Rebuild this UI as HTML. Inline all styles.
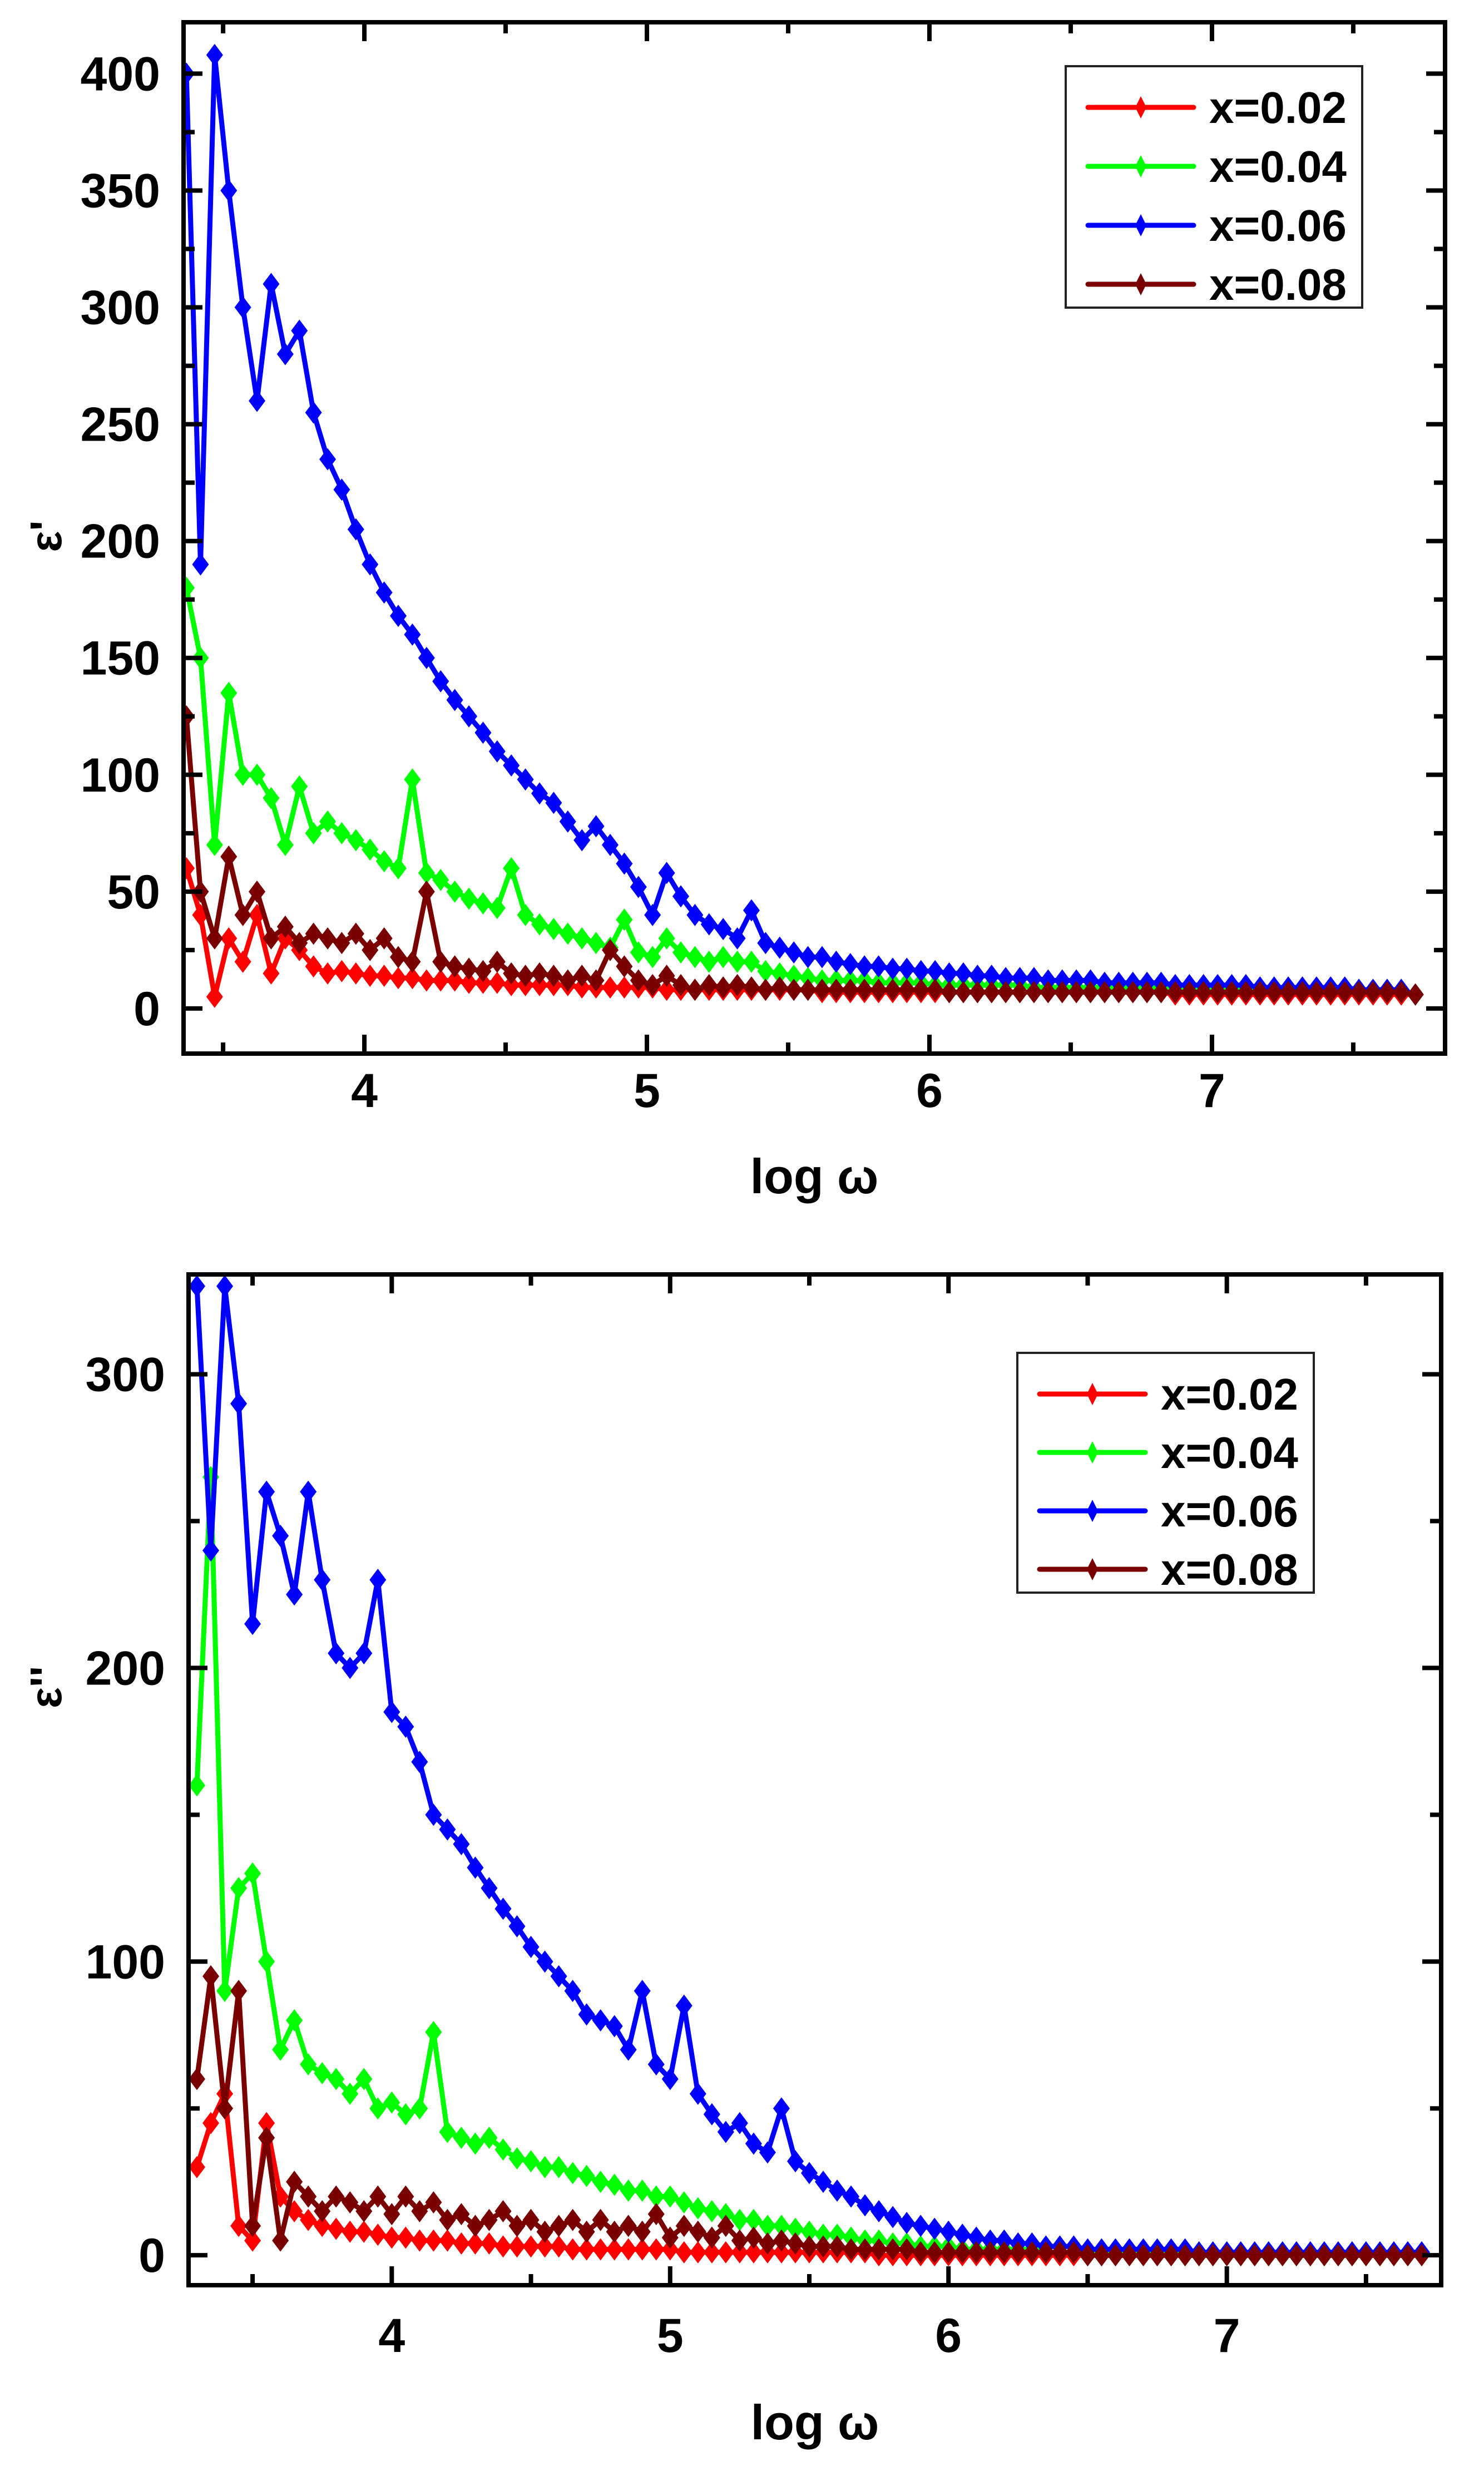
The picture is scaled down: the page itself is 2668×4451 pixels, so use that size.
<!DOCTYPE html>
<html><head><meta charset="utf-8"><style>
html,body{margin:0;padding:0;background:#fff;}
svg{display:block;font-family:"Liberation Sans",Arial,sans-serif;font-weight:bold;}
</style></head><body>
<svg id="fig" width="2668" height="4451" viewBox="0 0 2668 4451" xmlns="http://www.w3.org/2000/svg"></svg>
<script>
// ---------- data: top chart (epsilon') ----------
const topX = [3.37,3.42,3.47,3.52,3.57,3.62,3.67,3.72,3.77,3.82, 3.87,3.92,3.97,4.02,4.07,4.12,4.17,4.22,4.27,4.32, 4.37,4.42,4.47,4.52,4.57,4.62,4.67,4.72,4.77,4.82, 4.87,4.92,4.97,5.02,5.07,5.12,5.17,5.22,5.27,5.32, 5.37,5.42,5.47,5.52,5.57,5.62,5.67,5.72,5.77,5.82, 5.87,5.92,5.97,6.02,6.07,6.12,6.17,6.22,6.27,6.32, 6.37,6.42,6.47,6.52,6.57,6.62,6.67,6.72,6.77,6.82, 6.87,6.92,6.97,7.02,7.07,7.12,7.17,7.22,7.27,7.32, 7.37,7.42,7.47,7.52,7.57,7.62,7.67,7.72];
const topRed = [60,40,5,30,20,40,15,30,25,18, 15,16,15,14,14,13,13,12,12,12, 11,11,11,10,10,10,10,10,9,9, 9,9,9,9,8,8,8,8,8,8, 8,8,8,8,8,7,7,7,7,7, 7,7,7,7,7,7,7,7,7,7, 7,7,7,7,7,7,7,7,7,7, 6,6,6,6,6,6,6,6,6,6, 6,6,6,6,6,6,6,6];
const topGreen = [180,150,70,135,100,100,90,70,95,75, 80,75,72,68,63,60,98,58,55,50, 47,45,43,60,40,36,34,32,30,28, 26,38,24,22,30,24,22,20,22,20, 20,16,15,14,13,12,12,12,12,11, 11,11,11,10,10,10,10,10,10,10, 9,9,9,9,9,9,9,9,9,9, 8,8,8,8,8,8,8,8,8,8, 8,8,8,7,7,7,7,6];
const topBlue = [400,190,408,350,300,260,310,280,290,255, 235,222,205,190,178,168,160,150,140,132, 125,118,110,104,98,92,88,80,72,78, 70,62,52,40,58,48,40,36,34,30, 42,28,26,24,22,22,20,19,18,18, 17,17,16,16,15,15,14,14,13,13, 13,12,12,12,12,11,11,11,11,11, 10,10,10,10,10,10,9,9,9,9, 9,9,9,8,8,8,8,6];
const topBrown = [125,50,30,65,40,50,30,35,28,32, 30,28,32,25,30,22,20,50,20,18, 17,16,20,15,14,15,14,12,14,12, 25,18,12,10,14,10,8,10,9,10, 9,8,9,8,8,8,8,8,8,8, 8,8,8,8,7,7,7,7,7,7, 7,7,7,7,7,7,7,7,7,7, 7,7,7,7,7,7,7,7,7,7, 7,7,7,7,7,7,7,6];
const topYTicks = [0,50,100,150,200,250,300,350,400];
const topXTicks = [4,5,6,7];
// ---------- data: bottom chart (epsilon'') ----------
const botX = [3.30,3.35,3.40,3.45,3.50,3.55,3.60,3.65,3.70,3.75, 3.80,3.85,3.90,3.95,4.00,4.05,4.10,4.15,4.20,4.25, 4.30,4.35,4.40,4.45,4.50,4.55,4.60,4.65,4.70,4.75, 4.80,4.85,4.90,4.95,5.00,5.05,5.10,5.15,5.20,5.25, 5.30,5.35,5.40,5.45,5.50,5.55,5.60,5.65,5.70,5.75, 5.80,5.85,5.90,5.95,6.00,6.05,6.10,6.15,6.20,6.25, 6.30,6.35,6.40,6.45,6.50,6.55,6.60,6.65,6.70,6.75, 6.80,6.85,6.90,6.95,7.00,7.05,7.10,7.15,7.20,7.25, 7.30,7.35,7.40,7.45,7.50,7.55,7.60,7.65,7.70];
const botRed = [30,45,55,10,5,45,20,15,12,10, 9,8,8,7,6,6,5,5,5,4, 4,4,3,3,3,3,3,2,2,2, 2,2,2,2,2,1,1,1,1,1, 1,1,1,1,1,1,1,1,1,0, 0,0,0,0,0,0,0,0,0,0, 0,0,0,0,0,0,0,0,0,0, 0,0,0,0,0,0,0,0,0,0, 0,0,0,0,0,0,0,0,0];
const botGreen = [160,265,90,125,130,100,70,80,65,62, 60,55,60,50,52,48,50,76,42,40, 38,40,36,33,32,30,30,28,27,25, 24,22,22,20,20,18,16,15,14,12, 12,10,10,9,8,7,7,6,5,5, 4,4,3,3,3,2,2,2,2,2, 2,1,1,1,1,1,1,1,1,1, 1,0,0,0,0,0,0,0,0,0, 0,0,0,0,0,0,0,0,0];
const botBlue = [330,240,330,290,215,260,245,225,260,230, 205,200,205,230,185,180,168,150,145,140, 132,125,118,112,105,100,95,90,82,80, 78,70,90,65,60,85,55,48,42,45, 38,35,50,32,28,25,22,20,17,15, 13,11,10,9,8,7,6,5,5,4, 4,3,3,3,2,2,2,2,2,2, 2,2,1,1,1,1,1,1,1,1, 1,1,1,1,1,1,1,1,1];
const botBrown = [60,95,50,90,10,40,5,25,20,15, 20,18,15,20,14,20,15,18,12,14, 10,12,15,10,12,8,10,12,8,12, 8,10,8,14,6,10,8,6,10,5, 6,4,5,4,3,3,3,2,2,2, 2,2,1,1,1,1,1,1,1,1, 1,1,1,1,0,0,0,0,0,0, 0,0,0,0,0,0,0,0,0,0, 0,0,0,0,0,0,0,0,0];
const botYTicks = [0,100,200,300];
const botXTicks = [4,5,6,7];
const seriesLabels = ["x=0.02","x=0.04","x=0.06","x=0.08"];
const seriesColors = ["#ff0000","#00ff00","#0000ff","#7a0000"];

const NS = "http://www.w3.org/2000/svg";
const svg = document.getElementById('fig');
function mk(tag, attrs, parent){
  const e = document.createElementNS(NS, tag);
  for (const k in attrs) e.setAttribute(k, attrs[k]);
  (parent||svg).appendChild(e);
  return e;
}

function drawChart(cfg){
  const g = mk('g', {});
  
  
  const {L,R,T,B,xmin,xmax,ymin,ymax} = cfg;
  const sx = v => L + (v - xmin) / (xmax - xmin) * (R - L);
  const sy = v => B - (v - ymin) / (ymax - ymin) * (B - T);
  const cid = cfg.name + '-clip';
  const cp = mk('clipPath', {id: cid}, g);
  mk('rect', {x:L, y:T, width:R-L, height:B-T}, cp);

  const dg = mk('g', {'clip-path':'url(#'+cid+')'}, g);
  cfg.series.forEach((vals, si) => {
    const sg = mk('g', {}, dg);
    
    
    const pts = cfg.xs.map((x,i) => sx(x).toFixed(1) + ',' + sy(vals[i]).toFixed(1)).join(' ');
    const pl = mk('polyline', {points:pts, fill:'none', stroke:seriesColors[si], 'stroke-width':9, 'stroke-linejoin':'round'}, sg);
    
    
    cfg.xs.forEach((x,i) => {
      const cx = sx(x), cy = sy(vals[i]);
      const d = mk('polygon', {points:`${cx},${cy-20} ${cx+15},${cy} ${cx},${cy+20} ${cx-15},${cy}`, fill:seriesColors[si]}, sg);
      
      
    });
  });

  const fr = mk('rect', {x:L, y:T, width:R-L, height:B-T, fill:'none', stroke:'#000', 'stroke-width':8}, g);
  
  

  for (let v = Math.ceil(xmin*2)/2; v <= xmax; v += 0.5) {
    const major = Math.abs(v - Math.round(v)) < 1e-6;
    const len = major ? 34 : 20;
    const x = sx(v);
    mk('line', {x1:x, y1:B, x2:x, y2:B-len, stroke:'#000', 'stroke-width':8}, g);
    mk('line', {x1:x, y1:T, x2:x, y2:T+len, stroke:'#000', 'stroke-width':8}, g);
  }
  cfg.xTicks.forEach(v => {
    const t = mk('text', {x:sx(v), y:cfg.xLabelY, 'font-size':86, 'text-anchor':'middle'}, g);
    t.textContent = v;
    
    
  });
  const step = cfg.yTicks[1] - cfg.yTicks[0];
  for (let v = cfg.yTicks[0] - step/2; v <= ymax; v += step/2) {
    if (v < ymin) continue;
    const major = cfg.yTicks.includes(v);
    const len = major ? 34 : 20;
    const y = sy(v);
    mk('line', {x1:L, y1:y, x2:L+len, y2:y, stroke:'#000', 'stroke-width':8}, g);
    mk('line', {x1:R, y1:y, x2:R-len, y2:y, stroke:'#000', 'stroke-width':8}, g);
  }
  cfg.yTicks.forEach(v => {
    const t = mk('text', {x:L-42, y:sy(v)+30, 'font-size':86, 'text-anchor':'end'}, g);
    t.textContent = v;
    
    
  });
  const xt = mk('text', {x:(L+R)/2, y:cfg.xTitleY, 'font-size':88, 'text-anchor':'middle'}, g);
  xt.textContent = 'log ω';
  
  
  const yt = mk('text', {x:0, y:0, 'font-size':80, 'text-anchor':'middle', transform:`translate(110,${cfg.yTitleY}) rotate(-90)`}, g);
  yt.textContent = cfg.yTitle;
  
  

  const lg = mk('g', {}, g);
  
  
  const lb = cfg.legend;
  mk('rect', {x:lb.x, y:lb.y, width:lb.w, height:lb.h, fill:'#fff', stroke:'#222', 'stroke-width':4}, lg);
  seriesLabels.forEach((lab, i) => {
    const ey = lb.y + 74 + i * lb.gap;
    const eg = mk('g', {}, lg);
    
    
    mk('line', {x1:lb.x+40, y1:ey, x2:lb.x+230, y2:ey, stroke:seriesColors[i], 'stroke-width':9, 'stroke-linecap':'round'}, eg);
    const cx = lb.x+135;
    mk('polygon', {points:`${cx},${ey-20} ${cx+10},${ey} ${cx},${ey+20} ${cx-10},${ey}`, fill:seriesColors[i]}, eg);
    const t = mk('text', {x:lb.x+258, y:ey+28, 'font-size':80}, eg);
    t.textContent = lab;
  });
}

drawChart({name:'epsilon-prime-chart', L:330, R:2598, T:40, B:1894, xmin:3.36, xmax:7.825, ymin:-19.3, ymax:422,
  xs:topX, series:[topRed, topGreen, topBlue, topBrown], xTicks:topXTicks, yTicks:topYTicks,
  xLabelY:1990, xTitleY:2145, yTitle:"ε'", yTitleY:964,
  legend:{x:1916, y:119, w:533, h:434, gap:106}});
drawChart({name:'epsilon-double-prime-chart', L:339, R:2591, T:2291, B:4108, xmin:3.27, xmax:7.77, ymin:-10.2, ymax:334,
  xs:botX, series:[botRed, botGreen, botBlue, botBrown], xTicks:botXTicks, yTicks:botYTicks,
  xLabelY:4228, xTitleY:4385, yTitle:"ε''", yTitleY:3033,
  legend:{x:1829, y:2432, w:533, h:431, gap:105}});
</script>
</body></html>
